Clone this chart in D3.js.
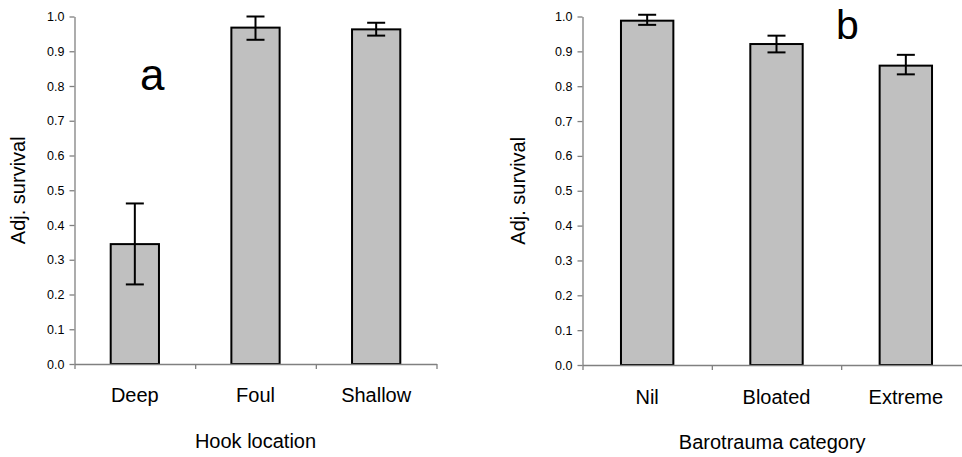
<!DOCTYPE html>
<html>
<head>
<meta charset="utf-8">
<script src="https://cdn.jsdelivr.net/npm/d3@7"></script>
<style>
  html, body { margin: 0; padding: 0; background: #fff; }
  svg { display: block; font-family: "Liberation Sans", Arial, sans-serif; }
</style>
</head>
<body>
<svg id="chart" width="962" height="457"></svg>
<script>
// Panel a: adjusted survival by hook location (mean with lower/upper error)
const hookCategories = ["Deep", "Foul", "Shallow"];
const hookSurvival   = [0.345, 0.968, 0.963];
const hookLower      = [0.229, 0.933, 0.945];
const hookUpper      = [0.462, 1.000, 0.982];

// Panel b: adjusted survival by barotrauma category
const baroCategories = ["Nil", "Bloated", "Extreme"];
const baroSurvival   = [0.988, 0.921, 0.859];
const baroLower      = [0.976, 0.897, 0.834];
const baroUpper      = [1.005, 0.945, 0.890];

// Shared y-axis ticks
const yTickValues = [0, 0.1, 0.2, 0.3, 0.4, 0.5, 0.6, 0.7, 0.8, 0.9, 1.0];

const svg = d3.select("#chart");

function drawPanel(cfg) {
  const g = svg.append("g");
  const y = d3.scaleLinear().domain([0, 1]).range([cfg.y0, cfg.y1]);
  const xIdx = d3.scaleLinear().domain([0, cfg.categories.length]).range([cfg.x0, cfg.x1]);
  const band = d3.scaleBand().domain(cfg.categories).range([cfg.x0, cfg.x1]).padding(0);
  const barW = band.bandwidth() * cfg.barFrac;

  const rows = cfg.categories.map((c, i) => ({
    cat: c, v: cfg.values[i], lo: cfg.lower[i], hi: cfg.upper[i]
  }));

  // bars
  g.selectAll("rect.bar").data(rows).join("rect")
    .attr("class", "bar")
    .attr("x", d => band(d.cat) + (band.bandwidth() - barW) / 2)
    .attr("width", barW)
    .attr("y", d => y(d.v))
    .attr("height", d => y(0) - y(d.v))
    .attr("fill", "#c0c0c0")
    .attr("stroke", "#000")
    .attr("stroke-width", 2);

  // error bars
  const cap = 18;
  const eb = g.selectAll("g.err").data(rows).join("g").attr("class", "err")
    .attr("stroke", "#000").attr("stroke-width", 2);
  eb.append("line")
    .attr("x1", d => band(d.cat) + band.bandwidth() / 2)
    .attr("x2", d => band(d.cat) + band.bandwidth() / 2)
    .attr("y1", d => y(d.lo)).attr("y2", d => y(d.hi));
  eb.append("line")
    .attr("x1", d => band(d.cat) + band.bandwidth() / 2 - cap / 2)
    .attr("x2", d => band(d.cat) + band.bandwidth() / 2 + cap / 2)
    .attr("y1", d => y(d.hi)).attr("y2", d => y(d.hi));
  eb.append("line")
    .attr("x1", d => band(d.cat) + band.bandwidth() / 2 - cap / 2)
    .attr("x2", d => band(d.cat) + band.bandwidth() / 2 + cap / 2)
    .attr("y1", d => y(d.lo)).attr("y2", d => y(d.lo));

  // y axis
  const yAxis = g.append("g")
    .attr("transform", `translate(${cfg.x0},0)`)
    .call(d3.axisLeft(y).tickValues(yTickValues).tickFormat(d3.format(".1f"))
      .tickSize(5).tickSizeOuter(0).tickPadding(5));
  yAxis.selectAll("path, line").attr("stroke", "#808080").attr("stroke-width", 1.3);
  yAxis.selectAll("text").attr("fill", "#000").attr("font-size", 12.5)
    .attr("font-family", "Liberation Sans, Arial, sans-serif");

  // x axis with ticks at category boundaries
  const xAxis = g.append("g")
    .attr("transform", `translate(0,${cfg.y0})`)
    .call(d3.axisBottom(xIdx).tickValues(d3.range(cfg.categories.length + 1))
      .tickFormat("").tickSize(5).tickSizeOuter(0));
  xAxis.selectAll("path, line").attr("stroke", "#808080").attr("stroke-width", 1.3);

  // category labels
  g.selectAll("text.cat").data(cfg.categories).join("text")
    .attr("class", "cat")
    .attr("x", d => band(d) + band.bandwidth() / 2)
    .attr("y", cfg.catBaseline)
    .attr("text-anchor", "middle")
    .attr("font-size", 20)
    .attr("fill", "#000")
    .text(d => d);

  // axis titles
  g.append("text")
    .attr("x", (cfg.x0 + cfg.titleRight) / 2)
    .attr("y", cfg.titleBaseline)
    .attr("text-anchor", "middle")
    .attr("font-size", 20)
    .text(cfg.xTitle);

  g.append("text")
    .attr("transform", `translate(${cfg.yTitleX},${(cfg.y0 + cfg.y1) / 2}) rotate(-90)`)
    .attr("text-anchor", "middle")
    .attr("font-size", 20)
    .text("Adj. survival");

  // panel letter
  g.append("text")
    .attr("x", cfg.letterX).attr("y", cfg.letterY)
    .attr("font-size", cfg.letterSize)
    .text(cfg.letter);
}

drawPanel({
  categories: hookCategories, values: hookSurvival, lower: hookLower, upper: hookUpper,
  x0: 74.5, x1: 436.5, y0: 364, y1: 16.5, barFrac: 0.4,
  catBaseline: 402, titleBaseline: 448, titleRight: 436.5, yTitleX: 25,
  xTitle: "Hook location", letter: "a", letterX: 140, letterY: 90, letterSize: 44
});

drawPanel({
  categories: baroCategories, values: baroSurvival, lower: baroLower, upper: baroUpper,
  x0: 582.5, x1: 970.5, y0: 365, y1: 16.5, barFrac: 0.405,
  catBaseline: 404, titleBaseline: 449, titleRight: 962, yTitleX: 525,
  xTitle: "Barotrauma category", letter: "b", letterX: 836, letterY: 38.5, letterSize: 41
});
</script>
</body>
</html>
